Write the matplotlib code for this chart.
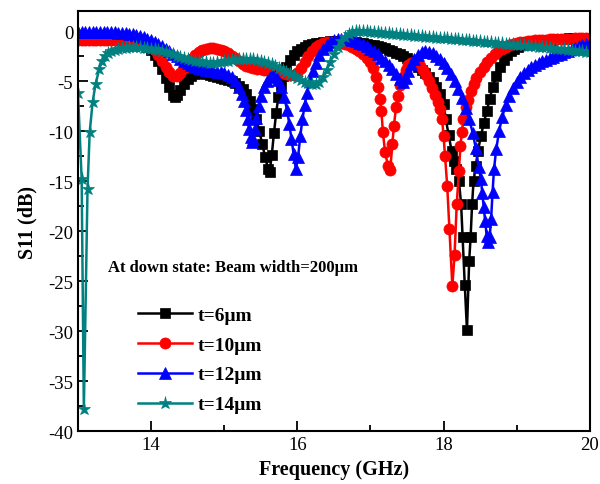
import matplotlib
matplotlib.use("Agg")
import matplotlib.pyplot as plt
from matplotlib.ticker import MultipleLocator

plt.rcParams['font.family'] = ['Liberation Serif', 'DejaVu Serif']
plt.rcParams['axes.unicode_minus'] = False

# S11 sweeps, (frequency GHz, S11 dB)
t6 = [(13.00, -0.80), (13.05, -0.80), (13.10, -0.80), (13.15, -0.80), (13.20, -0.80), (13.25, -0.80),
      (13.30, -0.80), (13.35, -0.81), (13.40, -0.82), (13.45, -0.83), (13.50, -0.84), (13.55, -0.85),
      (13.60, -0.87), (13.65, -0.90), (13.70, -0.93), (13.75, -0.98), (13.80, -1.05), (13.85, -1.15),
      (13.90, -1.30), (13.95, -1.55), (14.00, -1.90), (14.05, -2.40), (14.10, -3.00), (14.15, -3.80),
      (14.20, -4.70), (14.25, -5.60), (14.30, -6.40), (14.33, -6.60), (14.36, -6.40), (14.40, -5.90),
      (14.45, -5.30), (14.50, -4.80), (14.55, -4.50), (14.60, -4.30), (14.65, -4.20), (14.70, -4.20),
      (14.75, -4.25), (14.80, -4.35), (14.85, -4.45), (14.90, -4.55), (14.95, -4.65), (15.00, -4.75),
      (15.05, -4.85), (15.10, -5.00), (15.15, -5.20), (15.20, -5.45), (15.25, -5.80), (15.30, -6.30),
      (15.35, -7.00), (15.40, -7.80), (15.44, -8.80), (15.48, -10.0), (15.52, -11.3), (15.56, -12.6),
      (15.60, -13.8), (15.62, -14.1), (15.65, -12.4), (15.68, -10.2), (15.71, -8.20), (15.74, -6.60),
      (15.77, -5.40), (15.80, -4.50), (15.85, -3.60), (15.90, -2.90), (15.95, -2.40), (16.00, -2.00),
      (16.05, -1.75), (16.10, -1.55), (16.15, -1.40), (16.20, -1.30), (16.25, -1.20), (16.30, -1.15),
      (16.35, -1.10), (16.40, -1.05), (16.45, -1.02), (16.50, -1.00), (16.55, -1.00), (16.60, -1.00),
      (16.65, -1.02), (16.70, -1.05), (16.75, -1.08), (16.80, -1.12), (16.85, -1.17), (16.90, -1.22),
      (16.95, -1.28), (17.00, -1.35), (17.05, -1.42), (17.10, -1.50), (17.15, -1.60), (17.20, -1.72),
      (17.25, -1.85), (17.30, -2.00), (17.35, -2.15), (17.40, -2.30), (17.45, -2.50), (17.50, -2.70),
      (17.55, -2.95), (17.60, -3.25), (17.65, -3.55), (17.70, -3.85), (17.75, -4.20), (17.80, -4.60),
      (17.85, -5.10), (17.90, -5.60), (17.95, -6.30), (18.00, -7.30), (18.03, -8.80), (18.07, -10.4),
      (18.11, -12.0), (18.14, -13.0), (18.17, -13.8), (18.21, -15.0), (18.24, -17.3), (18.26, -20.6),
      (18.29, -25.4), (18.32, -29.9), (18.35, -23.0), (18.37, -20.6), (18.39, -17.3), (18.41, -15.0),
      (18.44, -13.5), (18.47, -12.0), (18.51, -10.5), (18.55, -9.20), (18.59, -8.00), (18.63, -6.80),
      (18.67, -5.60), (18.72, -4.50), (18.77, -3.60), (18.82, -2.90), (18.87, -2.40), (18.92, -2.00),
      (18.97, -1.75), (19.02, -1.55), (19.07, -1.40), (19.12, -1.28), (19.17, -1.18), (19.22, -1.10),
      (19.27, -1.03), (19.32, -0.97), (19.37, -0.92), (19.42, -0.88), (19.47, -0.85), (19.52, -0.82),
      (19.57, -0.79), (19.62, -0.77), (19.67, -0.75), (19.72, -0.73), (19.77, -0.71), (19.82, -0.70),
      (19.87, -0.69), (19.92, -0.68), (19.97, -0.67), (20.00, -0.67)]

t10 = [(13.00, -0.85), (13.05, -0.85), (13.10, -0.85), (13.15, -0.85), (13.20, -0.85), (13.25, -0.85),
       (13.30, -0.85), (13.35, -0.86), (13.40, -0.86), (13.45, -0.87), (13.50, -0.88), (13.55, -0.89),
       (13.60, -0.90), (13.65, -0.92), (13.70, -0.94), (13.75, -0.96), (13.80, -0.98), (13.85, -1.00),
       (13.90, -1.10), (13.95, -1.30), (14.00, -1.55), (14.05, -1.90), (14.10, -2.40), (14.15, -3.00),
       (14.20, -3.60), (14.25, -4.10), (14.30, -4.50), (14.35, -4.50), (14.40, -4.20), (14.45, -3.70),
       (14.50, -3.20), (14.55, -2.80), (14.60, -2.40), (14.65, -2.10), (14.70, -1.90), (14.75, -1.80),
       (14.80, -1.70), (14.85, -1.70), (14.90, -1.75), (14.95, -1.85), (15.00, -2.00), (15.05, -2.20),
       (15.10, -2.45), (15.15, -2.70), (15.20, -3.00), (15.25, -3.25), (15.30, -3.45), (15.35, -3.60),
       (15.40, -3.70), (15.45, -3.75), (15.50, -3.80), (15.55, -3.85), (15.60, -3.90), (15.65, -3.95),
       (15.70, -4.00), (15.75, -4.10), (15.80, -4.20), (15.85, -4.30), (15.90, -4.40), (15.95, -4.40),
       (16.00, -4.20), (16.05, -3.70), (16.10, -3.10), (16.15, -2.50), (16.20, -2.00), (16.25, -1.60),
       (16.30, -1.35), (16.35, -1.20), (16.40, -1.10), (16.45, -1.05), (16.50, -1.05), (16.55, -1.10),
       (16.60, -1.15), (16.65, -1.25), (16.70, -1.40), (16.75, -1.55), (16.80, -1.75), (16.85, -2.00),
       (16.90, -2.30), (16.95, -2.65), (17.00, -3.10), (17.04, -3.70), (17.08, -4.60), (17.11, -5.60),
       (17.13, -6.80), (17.15, -8.00), (17.17, -10.1), (17.20, -12.1), (17.24, -13.5), (17.27, -13.9),
       (17.30, -11.3), (17.32, -9.50), (17.35, -7.60), (17.38, -6.50), (17.41, -5.40), (17.44, -4.60),
       (17.48, -3.90), (17.52, -3.40), (17.56, -3.15), (17.60, -3.10), (17.64, -3.20), (17.68, -3.50),
       (17.72, -3.90), (17.76, -4.40), (17.80, -5.00), (17.84, -5.70), (17.88, -6.40), (17.92, -7.10),
       (17.95, -7.80), (17.98, -8.80), (18.00, -10.5), (18.02, -12.5), (18.05, -15.5), (18.08, -19.8),
       (18.12, -25.5), (18.15, -22.4), (18.18, -17.3), (18.21, -14.0), (18.23, -11.5), (18.25, -10.1),
       (18.27, -8.80), (18.30, -7.60), (18.33, -6.90), (18.37, -6.00), (18.41, -5.30), (18.45, -4.70),
       (18.50, -4.10), (18.55, -3.60), (18.60, -3.10), (18.65, -2.70), (18.70, -2.30), (18.75, -2.00),
       (18.80, -1.75), (18.85, -1.55), (18.90, -1.40), (18.95, -1.30), (19.00, -1.20), (19.05, -1.12),
       (19.10, -1.05), (19.15, -1.00), (19.20, -0.95), (19.25, -0.92), (19.30, -0.89), (19.35, -0.86),
       (19.40, -0.84), (19.45, -0.82), (19.50, -0.80), (19.55, -0.79), (19.60, -0.78), (19.65, -0.76),
       (19.70, -0.75), (19.75, -0.74), (19.80, -0.73), (19.85, -0.72), (19.90, -0.71), (19.95, -0.70),
       (20.00, -0.70)]

t12 = [(13.00, -0.10), (13.05, -0.10), (13.10, -0.10), (13.15, -0.10), (13.20, -0.10), (13.25, -0.10),
       (13.30, -0.11), (13.35, -0.11), (13.40, -0.12), (13.45, -0.12), (13.50, -0.13), (13.55, -0.14),
       (13.60, -0.15), (13.65, -0.20), (13.70, -0.25), (13.75, -0.30), (13.80, -0.40), (13.85, -0.50),
       (13.90, -0.62), (13.95, -0.76), (14.00, -0.92), (14.05, -1.10), (14.10, -1.30), (14.15, -1.50),
       (14.20, -1.75), (14.25, -2.00), (14.30, -2.25), (14.35, -2.50), (14.40, -2.75), (14.45, -3.00),
       (14.50, -3.20), (14.55, -3.40), (14.60, -3.55), (14.65, -3.70), (14.70, -3.80), (14.75, -3.90),
       (14.80, -3.95), (14.85, -4.00), (14.90, -4.05), (14.95, -4.10), (15.00, -4.20), (15.05, -4.35),
       (15.10, -4.60), (15.15, -5.00), (15.20, -5.60), (15.24, -6.30), (15.27, -7.00), (15.30, -7.90),
       (15.32, -8.80), (15.34, -9.80), (15.36, -10.6), (15.38, -11.1), (15.40, -10.8), (15.42, -9.80),
       (15.44, -8.70), (15.47, -7.50), (15.50, -6.50), (15.54, -5.60), (15.58, -5.00), (15.62, -4.60),
       (15.66, -4.40), (15.70, -4.50), (15.74, -4.90), (15.78, -5.60), (15.82, -6.60), (15.86, -7.90),
       (15.89, -9.30), (15.92, -10.8), (15.95, -12.3), (15.98, -13.8), (16.01, -12.6), (16.04, -10.5),
       (16.07, -8.80), (16.10, -7.40), (16.13, -6.20), (16.17, -5.00), (16.21, -4.00), (16.25, -3.20),
       (16.30, -2.40), (16.35, -1.80), (16.40, -1.40), (16.45, -1.10), (16.50, -0.90), (16.55, -0.80),
       (16.60, -0.75), (16.65, -0.75), (16.70, -0.80), (16.75, -0.90), (16.80, -1.00), (16.85, -1.15),
       (16.90, -1.30), (16.95, -1.50), (17.00, -1.75), (17.05, -2.00), (17.10, -2.30), (17.15, -2.65),
       (17.20, -3.00), (17.25, -3.40), (17.30, -3.80), (17.35, -4.30), (17.40, -4.80), (17.44, -5.10),
       (17.48, -4.70), (17.52, -4.00), (17.56, -3.30), (17.60, -2.80), (17.65, -2.40), (17.70, -2.10),
       (17.75, -2.00), (17.80, -2.05), (17.85, -2.20), (17.90, -2.45), (17.95, -2.80), (18.00, -3.20),
       (18.05, -3.70), (18.10, -4.30), (18.15, -5.00), (18.20, -5.80), (18.25, -6.70), (18.30, -7.70),
       (18.35, -8.80), (18.40, -10.2), (18.44, -11.7), (18.48, -13.6), (18.51, -14.8), (18.53, -16.2),
       (18.55, -17.6), (18.57, -19.0), (18.59, -20.5), (18.61, -21.1), (18.63, -20.6), (18.65, -18.8),
       (18.67, -16.1), (18.69, -13.8), (18.72, -11.8), (18.76, -10.0), (18.80, -8.60), (18.85, -7.40),
       (18.90, -6.50), (18.95, -5.70), (19.00, -5.10), (19.05, -4.60), (19.10, -4.20), (19.15, -3.90),
       (19.20, -3.60), (19.25, -3.40), (19.30, -3.20), (19.35, -3.00), (19.40, -2.85), (19.45, -2.70),
       (19.50, -2.55), (19.55, -2.40), (19.60, -2.25), (19.65, -2.10), (19.70, -1.95), (19.75, -1.80),
       (19.80, -1.65), (19.85, -1.50), (19.90, -1.40), (19.95, -1.30), (20.00, -1.20)]

t14 = [(13.00, -6.20), (13.05, -14.8), (13.08, -37.8), (13.13, -15.8), (13.16, -10.1), (13.20, -7.10),
       (13.24, -5.30), (13.29, -3.80), (13.33, -3.00), (13.37, -2.50), (13.41, -2.20), (13.45, -2.00),
       (13.50, -1.85), (13.55, -1.75), (13.60, -1.70), (13.65, -1.65), (13.70, -1.62), (13.75, -1.60),
       (13.80, -1.60), (13.85, -1.62), (13.90, -1.65), (13.95, -1.70), (14.00, -1.75), (14.05, -1.82),
       (14.10, -1.90), (14.15, -2.00), (14.20, -2.10), (14.25, -2.20), (14.30, -2.32), (14.35, -2.45),
       (14.40, -2.55), (14.45, -2.65), (14.50, -2.75), (14.55, -2.85), (14.60, -2.95), (14.65, -3.02),
       (14.70, -3.08), (14.75, -3.12), (14.80, -3.15), (14.85, -3.15), (14.90, -3.12), (14.95, -3.08),
       (15.00, -3.02), (15.05, -2.95), (15.10, -2.88), (15.15, -2.82), (15.20, -2.78), (15.25, -2.76),
       (15.30, -2.76), (15.35, -2.78), (15.40, -2.82), (15.45, -2.88), (15.50, -2.96), (15.55, -3.06),
       (15.60, -3.18), (15.65, -3.32), (15.70, -3.48), (15.75, -3.65), (15.80, -3.84), (15.85, -4.04),
       (15.90, -4.25), (15.95, -4.46), (16.00, -4.67), (16.05, -4.87), (16.10, -5.05), (16.15, -5.20),
       (16.20, -5.30), (16.25, -5.30), (16.30, -5.10), (16.35, -4.60), (16.40, -3.90), (16.45, -3.10),
       (16.50, -2.30), (16.55, -1.60), (16.60, -1.00), (16.65, -0.60), (16.70, -0.30), (16.75, -0.12),
       (16.80, -0.03), (16.85, 0.00), (16.90, 0.00), (16.95, -0.02), (17.00, -0.05), (17.05, -0.08),
       (17.10, -0.12), (17.15, -0.15), (17.20, -0.19), (17.25, -0.22), (17.30, -0.26), (17.35, -0.29),
       (17.40, -0.33), (17.45, -0.36), (17.50, -0.40), (17.55, -0.43), (17.60, -0.46), (17.65, -0.49),
       (17.70, -0.52), (17.75, -0.55), (17.80, -0.58), (17.85, -0.61), (17.90, -0.64), (17.95, -0.67),
       (18.00, -0.70), (18.05, -0.73), (18.10, -0.76), (18.15, -0.79), (18.20, -0.82), (18.25, -0.85),
       (18.30, -0.88), (18.35, -0.91), (18.40, -0.94), (18.45, -0.97), (18.50, -1.00), (18.55, -1.04),
       (18.60, -1.07), (18.65, -1.11), (18.70, -1.14), (18.75, -1.18), (18.80, -1.21), (18.85, -1.25),
       (18.90, -1.28), (18.95, -1.32), (19.00, -1.35), (19.05, -1.39), (19.10, -1.42), (19.15, -1.46),
       (19.20, -1.49), (19.25, -1.53), (19.30, -1.56), (19.35, -1.60), (19.40, -1.63), (19.45, -1.67),
       (19.50, -1.70), (19.55, -1.74), (19.60, -1.78), (19.65, -1.82), (19.70, -1.86), (19.75, -1.90),
       (19.80, -1.94), (19.85, -1.98), (19.90, -2.02), (19.95, -2.06), (20.00, -2.10)]

labels = ["t=6\u03bcm", "t=10\u03bcm", "t=12\u03bcm", "t=14\u03bcm"]
colors = ["black", "red", "blue", "#008080"]
markers = ["s", "o", "^", "*"]
sizes = [7.5, 8, 8.5, 9.5]

fig = plt.figure(figsize=(6, 4.85), dpi=100)
ax = fig.add_axes([0.13, 0.109, 0.853, 0.866])

for data, lab, c, m, ms in zip([t6, t10, t12, t14], labels, colors, markers, sizes):
    f, s = zip(*data)
    ax.plot(f, s, color=c, marker=m, markersize=ms, markeredgewidth=0.5,
            linewidth=1.8, label=lab)

ax.set_xlim(13, 20)
ax.set_ylim(-40, 2)
ax.xaxis.set_major_locator(MultipleLocator(2))
ax.xaxis.set_minor_locator(MultipleLocator(1))
ax.yaxis.set_major_locator(MultipleLocator(5))
ax.yaxis.set_minor_locator(MultipleLocator(2.5))
ax.tick_params(which='both', direction='in', labelsize=13.5, width=1.3)
ax.tick_params(which='major', length=7)
ax.tick_params(which='minor', length=4)
for sp in ax.spines.values():
    sp.set_linewidth(1.5)

ax.set_xlabel("Frequency (GHz)", fontsize=14.5, fontweight='bold')
ax.set_ylabel("S11 (dB)", fontsize=14.5, fontweight='bold', labelpad=8)

ax.text(0.058, 0.39, "At down state: Beam width=200\u03bcm", transform=ax.transAxes,
        fontsize=12, fontweight='bold', va='center')

ax.legend(loc='upper left', bbox_to_anchor=(0.09, 0.33), frameon=False,
          prop={'weight': 'bold', 'size': 14}, handlelength=2.8,
          labelspacing=0.63, handletextpad=0.3, borderpad=0.2)

plt.savefig("out.png")
